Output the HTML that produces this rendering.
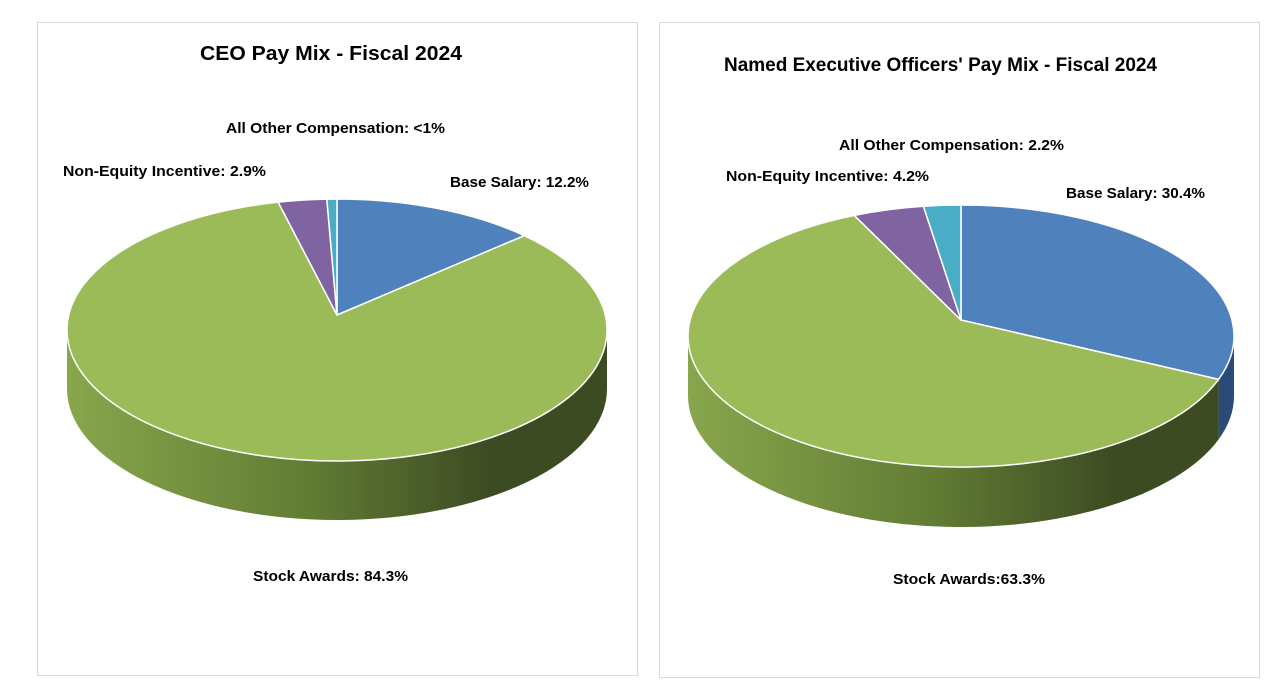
<!DOCTYPE html>
<html><head><meta charset="utf-8"><style>
html,body{margin:0;padding:0;background:#fff;}
svg{display:block;font-family:"Liberation Sans",sans-serif;font-weight:bold;}
</style></head><body>
<svg id="c" width="1284" height="697" viewBox="0 0 1284 697" xmlns="http://www.w3.org/2000/svg">
<defs>
<linearGradient id="g1" gradientUnits="userSpaceOnUse" x1="67" y1="0" x2="607" y2="0"><stop offset="0" stop-color="#88a64c"/><stop offset="0.45" stop-color="#617c34"/><stop offset="0.78" stop-color="#3d4b22"/><stop offset="1" stop-color="#3d4b22"/></linearGradient>
<linearGradient id="g2" gradientUnits="userSpaceOnUse" x1="688" y1="0" x2="1234" y2="0"><stop offset="0" stop-color="#88a64c"/><stop offset="0.45" stop-color="#617c34"/><stop offset="0.78" stop-color="#3d4b22"/><stop offset="1" stop-color="#3d4b22"/></linearGradient>
</defs>
<rect x="37.5" y="22.5" width="600" height="653" fill="#fff" stroke="#d9d9d9"/>
<rect x="659.5" y="22.5" width="600" height="655" fill="#fff" stroke="#d9d9d9"/>
<g id="p1"></g>
<g id="p2"></g>
<text x="200" y="60" textLength="262" lengthAdjust="spacingAndGlyphs" font-size="20" fill="#000">CEO Pay Mix - Fiscal 2024</text>
<text x="724" y="71" textLength="433" lengthAdjust="spacingAndGlyphs" font-size="19" fill="#000">Named Executive Officers' Pay Mix - Fiscal 2024</text>
<text x="226" y="133" textLength="219" lengthAdjust="spacingAndGlyphs" font-size="15">All Other Compensation: &lt;1%</text>
<text x="63" y="176" textLength="203" lengthAdjust="spacingAndGlyphs" font-size="15">Non-Equity Incentive: 2.9%</text>
<text x="450" y="187" textLength="139" lengthAdjust="spacingAndGlyphs" font-size="15">Base Salary: 12.2%</text>
<text x="253" y="581" textLength="155" lengthAdjust="spacingAndGlyphs" font-size="15">Stock Awards: 84.3%</text>
<text x="839" y="150" textLength="225" lengthAdjust="spacingAndGlyphs" font-size="15">All Other Compensation: 2.2%</text>
<text x="726" y="181" textLength="203" lengthAdjust="spacingAndGlyphs" font-size="15">Non-Equity Incentive: 4.2%</text>
<text x="1066" y="198" textLength="139" lengthAdjust="spacingAndGlyphs" font-size="15">Base Salary: 30.4%</text>
<text x="893" y="584" textLength="152" lengthAdjust="spacingAndGlyphs" font-size="15">Stock Awards:63.3%</text>
</svg>
<script>
const categories = ["Base Salary", "Stock Awards", "Non-Equity Incentive", "All Other Compensation"];
const ceoValues = [12.2, 84.3, 2.9, 0.6];
const neoValues = [30.4, 63.3, 4.2, 2.2];
const colors = ["#4f81bd", "#9bbb59", "#8064a2", "#4bacc6"];
const sideColors = ["#2c4a78", "url(#G)", "#4a3a60", "#2b6a7c"];
const NS = "http://www.w3.org/2000/svg";
function drawPie(gid, vals, cx, cy, ax, ay, rx, ry, depth, grad, prefix) {
  const g = document.getElementById(gid);
  const total = vals.reduce((a, b) => a + b, 0);
  const pt = (a, dy) => [cx + rx * Math.sin(a), cy - ry * Math.cos(a) + (dy || 0)];
  let start = 0;
  const angles = vals.map(v => { const s = start; start += v / total * 2 * Math.PI; return [s, start]; });
  // sides (front half: angle between PI/2 and 3PI/2)
  angles.forEach(([a0, a1], i) => {
    const s = Math.max(a0, Math.PI / 2), e = Math.min(a1, 3 * Math.PI / 2);
    if (e <= s) return;
    const p0 = pt(s), p1 = pt(e), q0 = pt(s, depth), q1 = pt(e, depth);
    const large = (e - s) > Math.PI ? 1 : 0;
    const path = document.createElementNS(NS, "path");
    path.setAttribute("d", `M${p0[0]},${p0[1]} A${rx},${ry} 0 ${large} 1 ${p1[0]},${p1[1]} L${q1[0]},${q1[1]} A${rx},${ry} 0 ${large} 0 ${q0[0]},${q0[1]} Z`);
    path.setAttribute("fill", i === 1 ? grad : sideColors[i]);
    
    
    g.appendChild(path);
  });
  angles.forEach(([a0, a1], i) => {
    const p0 = pt(a0), p1 = pt(a1);
    const large = (a1 - a0) > Math.PI ? 1 : 0;
    const path = document.createElementNS(NS, "path");
    path.setAttribute("d", `M${ax},${ay} L${p0[0]},${p0[1]} A${rx},${ry} 0 ${large} 1 ${p1[0]},${p1[1]} Z`);
    path.setAttribute("fill", colors[i]);
    path.setAttribute("stroke", "#fff");
    path.setAttribute("stroke-width", "1.5");
    path.setAttribute("stroke-linejoin", "round");
    
    
    g.appendChild(path);
  });
}
drawPie("p1", ceoValues, 337, 330, 337, 315, 270, 131, 59, "url(#g1)", "ceo");
drawPie("p2", neoValues, 961, 336, 961, 320, 273, 131, 60, "url(#g2)", "neo");
</script>
</body></html>
